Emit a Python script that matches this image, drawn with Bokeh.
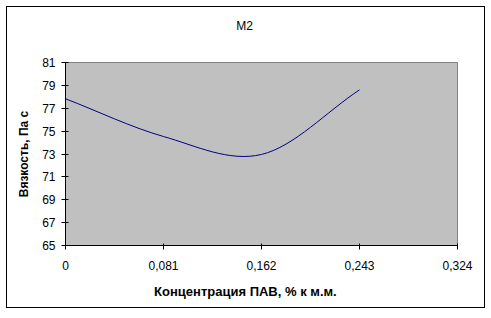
from bokeh.plotting import figure
from bokeh.models import FixedTicker, LinearAxis
from bokeh.embed import file_html
from bokeh.resources import INLINE

# data
conc = [0.0, 0.081, 0.162, 0.243]
visc = [77.83, 74.53, 72.96, 78.61]
x_ticks = [0.0, 0.081, 0.162, 0.243, 0.324]
x_tick_labels = ["0", "0,081", "0,162", "0,243", "0,324"]
y_ticks = [65, 67, 69, 71, 73, 75, 77, 79, 81]
title_text = "M2"
x_label = "Концентрация ПАВ, %  к м.м."
y_label = "Вязкость, Па с"

FONT = "Liberation Sans"
# layout: centres (in x-data units) of the chart title and x-axis title,
# which in the original are centred on the whole chart, not on the plot area
TITLE_CENTER = 0.1481
XLABEL_CENTER = 0.1502

p = figure(width=477, height=300, x_range=(0, 0.324), y_range=(65, 81),
           output_backend="svg", toolbar_location=None,
           min_border_left=58, min_border_right=27, min_border_top=55, min_border_bottom=62)
p.margin = (7, 7, 7, 7)
p.styles = {"outline": "1px solid black"}
p.background_fill_color = "#C0C0C0"
p.border_fill_color = "white"
p.outline_line_color = "#808080"
p.outline_line_width = 1
p.grid.visible = False

# Excel-style smoothed line via cubic Bezier segments
n = len(conc)
x0s, y0s, x1s, y1s, cx0s, cy0s, cx1s, cy1s = [], [], [], [], [], [], [], []
for i in range(n - 1):
    xa, ya = conc[i], visc[i]
    xb, yb = conc[i + 1], visc[i + 1]
    if i == 0:
        dx0, dy0 = (xb - xa) / 3, (yb - ya) / 3
    else:
        dx0, dy0 = (xb - conc[i - 1]) / 6, (yb - visc[i - 1]) / 6
    if i + 2 >= n:
        dx1, dy1 = (xb - xa) / 3, (yb - ya) / 3
    else:
        dx1, dy1 = (conc[i + 2] - xa) / 6, (visc[i + 2] - ya) / 6
    x0s.append(xa); y0s.append(ya); x1s.append(xb); y1s.append(yb)
    cx0s.append(xa + dx0); cy0s.append(ya + dy0)
    cx1s.append(xb - dx1); cy1s.append(yb - dy1)

p.bezier(x0=x0s, y0=y0s, x1=x1s, y1=y1s, cx0=cx0s, cy0=cy0s, cx1=cx1s, cy1=cy1s,
         line_color="#000080", line_width=1)

for ax in (p.xaxis[0], p.yaxis[0]):
    ax.axis_line_color = "black"
    ax.major_tick_line_color = "black"
    ax.minor_tick_line_color = None
    ax.major_tick_out = 4
    ax.major_label_text_font = FONT
    ax.major_label_text_font_size = "12px"
    ax.major_label_text_color = "black"

p.xaxis[0].ticker = FixedTicker(ticks=x_ticks)
p.xaxis[0].major_label_overrides = {t: s for t, s in zip(x_ticks, x_tick_labels)}
p.xaxis[0].major_label_standoff = 11
p.xaxis[0].major_tick_in = 2
p.yaxis[0].ticker = FixedTicker(ticks=y_ticks)
p.yaxis[0].major_tick_in = 3
p.yaxis[0].major_label_standoff = 6
p.yaxis[0].axis_label = y_label
p.yaxis[0].axis_label_standoff = 8
p.yaxis[0].axis_label_text_font = FONT
p.yaxis[0].axis_label_text_font_size = "12px"
p.yaxis[0].axis_label_text_font_style = "bold"
p.yaxis[0].axis_label_text_color = "black"


def text_axis(text, center, bold, size, standoff):
    # an axis with no line and no tick marks, carrying one text at a given x position
    return LinearAxis(ticker=FixedTicker(ticks=[center]),
                      major_label_overrides={center: text},
                      axis_line_color=None, major_tick_line_color=None,
                      minor_tick_line_color=None, major_tick_out=0, major_tick_in=0,
                      major_label_standoff=standoff,
                      major_label_text_font=FONT, major_label_text_font_size=size,
                      major_label_text_font_style="bold" if bold else "normal",
                      major_label_text_color="black")


p.add_layout(text_axis(x_label, XLABEL_CENTER, True, "13px", 11), "below")
p.add_layout(text_axis(title_text, TITLE_CENTER, False, "12px", 30), "above")

open("out.html", "w").write(file_html(p, INLINE))
